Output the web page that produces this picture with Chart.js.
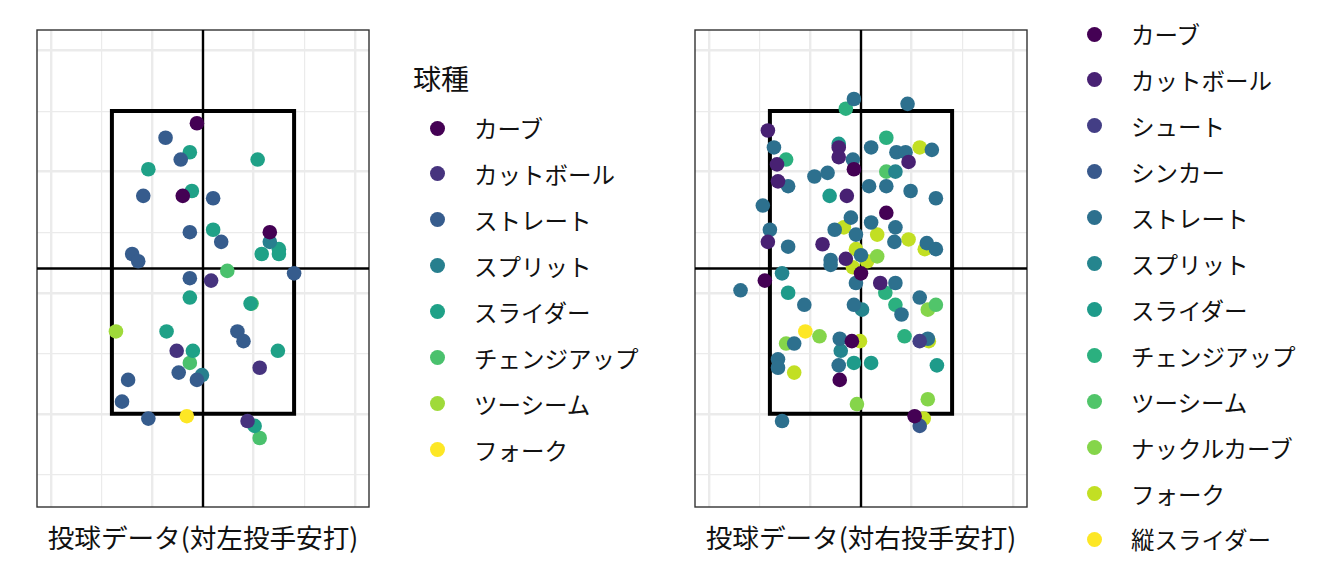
<!DOCTYPE html>
<html>
<head>
<meta charset="utf-8">
<script src="https://cdn.jsdelivr.net/npm/chart.js@4.4.1/dist/chart.umd.min.js"></script>
<style>
  html, body { margin: 0; padding: 0; background: #ffffff; }
  body { width: 1344px; height: 576px; position: relative; overflow: hidden;
         font-family: "Noto Sans CJK JP", "Noto Sans", sans-serif; color: #111111; }
  .wrap { position: absolute; top: 20px; width: 352px; height: 497px; }
  .ptitle { position: absolute; top: 518px; width: 400px; text-align: center;
            font-size: 26.6px; line-height: 38px; white-space: nowrap; }
  .legend { position: absolute; }
  .ltitle { position: absolute; font-size: 28px; line-height: 36px; white-space: nowrap; }
  .item { position: absolute; height: 46px; white-space: nowrap; }
  .dot { position: absolute; width: 15px; height: 15px; border-radius: 50%; top: 15.5px; }
  .lab { position: absolute; font-size: 23.5px; line-height: 46px; top: 0; }
</style>
</head>
<body>
<div class="wrap" style="left:27px"><canvas id="cL" width="352" height="497"></canvas></div>
<div class="wrap" style="left:685px"><canvas id="cR" width="352" height="497"></canvas></div>
<div class="ptitle" id="tL" style="left:3px"></div>
<div class="ptitle" id="tR" style="left:661px"></div>
<div id="legL"></div>
<div id="legR"></div>
<script>
// ---------------- DATA ----------------
const panelTitles = ['投球データ(対左投手安打)', '投球データ(対右投手安打)'];
const legendTitleLeft = '球種';

const leftTypes  = ['カーブ','カットボール','ストレート','スプリット','スライダー','チェンジアップ','ツーシーム','フォーク'];
const rightTypes = ['カーブ','カットボール','シュート','シンカー','ストレート','スプリット','スライダー','チェンジアップ','ツーシーム','ナックルカーブ','フォーク','縦スライダー'];

// palettes (viridis)
const leftPalette  = ['#440154','#46337E','#365C8D','#277F8E','#1FA187','#4AC16D','#9FDA3A','#FDE725'];
const rightPalette = ['#440154','#482173','#433E85','#38598C','#2D708E','#25858E','#1E9B8A','#2BB07F','#51C56A','#85D54A','#C2DF23','#FDE725'];

// ---- vs left-handed pitchers: [horizontal, height] ----
const L_curve    = [[-0.06,3.90],[-0.20,3.30],[0.66,3.00]];
const L_cutter   = [[0.08,2.60],[-0.26,2.02],[0.56,1.88],[0.44,1.44]];
const L_straight = [[-0.37,3.78],[-0.22,3.60],[-0.59,3.30],[0.10,3.28],[-0.13,3.00],[0.18,2.92],[-0.70,2.82],[-0.64,2.76],[0.90,2.66],[-0.13,2.62],[0.34,2.18],[0.40,2.10],[-0.24,1.84],[-0.06,1.78],[-0.74,1.78],[-0.80,1.60],[-0.54,1.46]];
const L_split    = [[0.66,2.92],[-0.01,1.82]];
const L_slider   = [[-0.13,3.66],[0.54,3.60],[-0.54,3.52],[-0.11,3.34],[0.10,3.02],[0.75,2.86],[0.75,2.82],[0.58,2.82],[-0.13,2.46],[0.47,2.41],[-0.36,2.18],[0.74,2.02],[-0.10,2.02],[0.51,1.40]];
const L_change   = [[0.24,2.68],[0.48,2.41],[-0.13,1.92],[0.56,1.30]];
const L_twoseam  = [[-0.86,2.18]];
const L_fork     = [[-0.16,1.48]];

// ---- vs right-handed pitchers ----
const R_curve    = [[-0.07,3.52],[0.25,3.16],[-0.95,2.60],[0.00,2.66],[-0.09,2.10],[-0.21,1.78],[0.53,1.48]];
const R_cutter   = [[-0.92,3.84],[-0.22,3.70],[-0.22,3.62],[-0.83,3.56],[-0.82,3.42],[0.47,3.58],[-0.14,3.30],[-0.92,2.92],[-0.38,2.90],[-0.15,2.78],[0.19,2.58]];
const R_shoot    = [[0.58,2.10]];
const R_sinker   = [[0.58,1.40]];
const R_straight = [[-0.07,4.10],[0.46,4.06],[-0.86,3.70],[-0.72,3.38],[-0.97,3.22],[-0.46,3.46],[-0.33,3.49],[-0.08,3.60],[0.10,3.70],[0.35,3.66],[0.44,3.66],[0.70,3.68],[0.08,3.38],[0.25,3.38],[0.49,3.34],[0.74,3.28],[-0.10,3.12],[0.10,3.08],[-0.26,3.02],[-0.05,2.98],[0.34,3.04],[0.33,2.92],[0.65,2.91],[0.74,2.86],[-0.90,3.02],[-0.72,2.88],[0.00,2.81],[-0.30,2.77],[-0.30,2.73],[-1.19,2.52],[-0.56,2.40],[-0.05,2.58],[0.34,2.58],[-0.07,2.40],[0.40,2.32],[0.58,2.46],[0.66,2.12],[-0.21,2.12],[-0.66,2.08],[-0.82,1.95],[-0.82,1.88],[-0.22,1.90],[-0.78,1.44]];
const R_split    = [[0.34,3.50],[-0.78,2.66],[0.01,2.36],[-0.20,2.02]];
const R_slider   = [[-0.22,3.73],[-0.31,3.30],[-0.72,2.50],[-0.07,1.92],[0.10,1.92],[0.75,1.90]];
const R_change   = [[-0.15,4.02],[-0.74,3.60],[0.25,3.78],[0.24,2.50],[0.34,2.40],[0.43,2.14]];
const R_twoseam  = [[0.25,3.50],[0.74,2.40]];
const R_knuckle  = [[0.16,2.80],[0.66,2.36],[-0.41,2.14],[-0.74,2.08],[-0.04,1.58],[0.66,1.62]];
const R_fork     = [[0.58,3.70],[-0.17,3.04],[0.16,2.98],[0.47,2.94],[0.63,2.86],[-0.05,2.86],[0.06,2.76],[-0.08,2.71],[-0.01,2.10],[0.67,2.10],[-0.66,1.84],[0.62,1.46]];
const R_vslider  = [[-0.55,2.18]];

const leftSeries  = [L_curve, L_cutter, L_straight, L_split, L_slider, L_change, L_twoseam, L_fork];
const rightSeries = [R_curve, R_cutter, R_shoot, R_sinker, R_straight, R_split, R_slider, R_change, R_twoseam, R_knuckle, R_fork, R_vslider];

// plot frame (data units)
const xRange = [-1.64, 1.64];
const yRange = [0.73, 4.67];
const xMajor = [-1.5, -0.5, 0.5, 1.5];
const xMinor = [-1, 0, 1];
const yMajor = [1.5, 2.5, 3.5, 4.5];
const yMinor = [1, 2, 3, 4];
const zoneX = [-0.9, 0.9];
const zoneY = [1.5, 4.0];
const crossX = 0;
const crossY = 2.7;

// ---------------- BUILD ----------------
const borderPlugin = {
  id: 'panelBorder',
  beforeDatasetsDraw(chart) {
    const a = chart.chartArea, ctx = chart.ctx;
    ctx.save();
    ctx.strokeStyle = '#333333';
    ctx.lineWidth = 1.4;
    ctx.strokeRect(a.left, a.top, a.right - a.left, a.bottom - a.top);
    ctx.restore();
  }
};

function gridTicks(major, minor) {
  return function(scale) {
    scale.ticks = major.concat(minor).sort((a,b)=>a-b).map(v => ({ value: v }));
  };
}

function makeChart(id, types, palette, series) {
  const datasets = series.map((pts, i) => ({
    label: types[i],
    data: pts.map(p => ({ x: p[0], y: p[1] })),
    backgroundColor: palette[i],
    borderColor: palette[i],
    borderWidth: 0,
    pointRadius: 7.3,
    pointHoverRadius: 7.3,
    order: 1
  }));
  const lineBase = { showLine: true, pointRadius: 0, borderColor: '#000000', backgroundColor: '#000000',
                     tension: 0, fill: false, order: 5 };
  datasets.push(Object.assign({}, lineBase, {
    label: 'zone',
    data: [ {x: zoneX[0], y: zoneY[0]}, {x: zoneX[1], y: zoneY[0]}, {x: zoneX[1], y: zoneY[1]},
            {x: zoneX[0], y: zoneY[1]}, {x: zoneX[0], y: zoneY[0]} ],
    borderWidth: 4, borderJoinStyle: 'miter', borderCapStyle: 'square'
  }));
  datasets.push(Object.assign({}, lineBase, {
    label: 'v', data: [{x: crossX, y: yRange[0]}, {x: crossX, y: yRange[1]}], borderWidth: 2.4
  }));
  datasets.push(Object.assign({}, lineBase, {
    label: 'h', data: [{x: xRange[0], y: crossY}, {x: xRange[1], y: crossY}], borderWidth: 2.4
  }));

  return new Chart(document.getElementById(id), {
    type: 'scatter',
    data: { datasets },
    options: {
      responsive: false,
      animation: false,
      events: [],
      layout: { padding: 10 },
      plugins: { legend: { display: false }, tooltip: { enabled: false }, title: { display: false } },
      scales: {
        x: {
          type: 'linear', min: xRange[0], max: xRange[1],
          afterBuildTicks: gridTicks(xMajor, xMinor),
          ticks: { display: false },
          border: { display: false },
          grid: { drawTicks: false, color: '#EBEBEB',
                  lineWidth: c => (c.tick && xMajor.includes(c.tick.value)) ? 2.4 : 1.2 }
        },
        y: {
          type: 'linear', min: yRange[0], max: yRange[1],
          afterBuildTicks: gridTicks(yMajor, yMinor),
          ticks: { display: false },
          border: { display: false },
          grid: { drawTicks: false, color: '#EBEBEB',
                  lineWidth: c => (c.tick && yMajor.includes(c.tick.value)) ? 2.4 : 1.2 }
        }
      }
    },
    plugins: [borderPlugin]
  });
}

makeChart('cL', leftTypes, leftPalette, leftSeries);
makeChart('cR', rightTypes, rightPalette, rightSeries);

document.getElementById('tL').textContent = panelTitles[0];
document.getElementById('tR').textContent = panelTitles[1];

function buildLegend(el, types, palette, dotX, textX, top0, title, titleX, titleY) {
  const root = document.getElementById(el);
  if (title) {
    const t = document.createElement('div');
    t.className = 'ltitle';
    t.style.left = titleX + 'px';
    t.style.top = titleY + 'px';
    t.textContent = title;
    root.appendChild(t);
  }
  types.forEach((name, i) => {
    const it = document.createElement('div');
    it.className = 'item';
    it.style.left = '0px';
    it.style.top = (top0 + i * 45.95) + 'px';
    const d = document.createElement('div');
    d.className = 'dot';
    d.style.left = (dotX - 7.5) + 'px';
    d.style.background = palette[i];
    const l = document.createElement('div');
    l.className = 'lab';
    l.style.left = textX + 'px';
    l.textContent = name;
    it.appendChild(d); it.appendChild(l);
    root.appendChild(it);
  });
}
buildLegend('legL', leftTypes, leftPalette, 437, 474, 105, legendTitleLeft, 413, 60);
buildLegend('legR', rightTypes, rightPalette, 1094, 1131, 11, null, 0, 0);
</script>
</body>
</html>
